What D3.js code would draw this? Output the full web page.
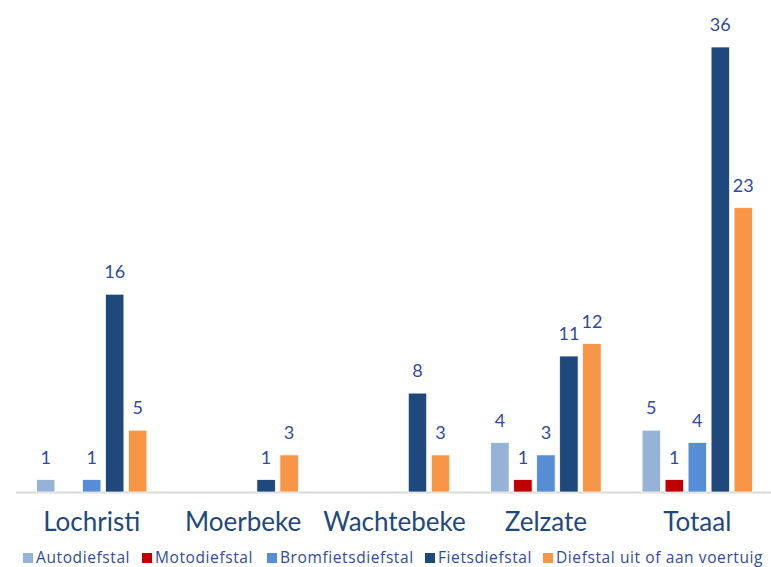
<!DOCTYPE html>
<html>
<head>
<meta charset="utf-8">
<script src="https://cdn.jsdelivr.net/npm/d3@7"></script>
<style>
  body { margin: 0; background: #fff; }
  svg { display: block; font-family: Lato, "Open Sans", sans-serif; }
</style>
</head>
<body>
<svg width="771" height="567"></svg>
<script>
var gemeenten = ["Lochristi", "Moerbeke", "Wachtebeke", "Zelzate", "Totaal"];
var reeksen   = ["Autodiefstal", "Motodiefstal", "Bromfietsdiefstal", "Fietsdiefstal", "Diefstal uit of aan voertuig"];
var kleuren   = ["#95b3d7", "#c00000", "#558ed5", "#1f497d", "#f79646"];

var auto      = [1, 0, 0, 4, 5];
var moto      = [0, 0, 0, 1, 1];
var bromfiets = [1, 0, 0, 3, 4];
var fiets     = [16, 1, 8, 11, 36];
var voertuig  = [5, 3, 3, 12, 23];

var waarden = [auto, moto, bromfiets, fiets, voertuig];

var svg    = d3.select("svg"),
    base   = 492,
    x0     = d3.scaleBand()
               .domain(gemeenten)
               .range([16, 773]),
    x1     = d3.scaleBand()
               .domain(reeksen)
               .range([x0.bandwidth()/2 - 57.5, x0.bandwidth()/2 + 57.5])
               .paddingInner(0.2)
               .paddingOuter(0.1),
    y      = d3.scaleLinear()
               .domain([0, d3.max(fiets)])
               .range([base, 47]),
    color  = d3.scaleOrdinal()
               .domain(reeksen)
               .range(kleuren);

// rows per gemeente
var rows = gemeenten.map(function(g, i) {
  return { gemeente: g, items: reeksen.map(function(r, j) {
    return { reeks: r, value: waarden[j][i] };
  }).filter(function(d) { return d.value > 0; }) };
});

// baseline
svg.append("line")
  .attr("x1", 16).attr("x2", 771)
  .attr("y1", base + 0.5).attr("y2", base + 0.5)
  .attr("stroke", "#d9d9d9")
  .attr("stroke-width", 2);

var groups = svg.selectAll(".groep")
  .data(rows)
  .enter().append("g")
    .attr("class", "groep")
    .attr("transform", d => "translate(" + x0(d.gemeente) + ",0)");

groups.selectAll("rect")
  .data(d => d.items)
  .enter().append("rect")
    .attr("x", d => x1(d.reeks))
    .attr("y", d => y(d.value))
    .attr("width", x1.bandwidth())
    .attr("height", d => base - y(d.value))
    .attr("fill", d => color(d.reeks))
    .attr("stroke", "#fff")
    .attr("stroke-width", 0.7);

groups.selectAll(".label")
  .data(d => d.items)
  .enter().append("text")
    .attr("class", "label")
    .attr("x", d => x1(d.reeks) + x1.bandwidth()/2)
    .attr("y", d => y(d.value) - 16)
    .attr("text-anchor", "middle")
    .attr("font-size", 18)
    .attr("fill", "#2f4b9c")
    .text(d => d.value);

// category axis
var xAxis = svg.append("g")
  .attr("transform", "translate(0," + base + ")")
  .call(d3.axisBottom(x0).tickSize(0).tickPadding(21));
xAxis.select(".domain").remove();
xAxis.selectAll("text")
  .attr("font-family", "Lato, 'Open Sans', sans-serif")
  .attr("font-size", 26)
  .attr("fill", "#1f497d")
  .attr("dy", "0.71em");

// legend
var legendX = [23, 142, 267, 425, 543];
var legend = svg.selectAll(".legend")
  .data(reeksen)
  .enter().append("g")
    .attr("class", "legend")
    .attr("transform", (d, i) => "translate(" + legendX[i] + ",553)");
legend.append("rect")
  .attr("width", 10).attr("height", 10)
  .attr("fill", d => color(d));
legend.append("text")
  .attr("x", 13).attr("y", 9.5)
  .attr("font-family", "'Open Sans', sans-serif")
  .attr("font-size", 15.5)
  .attr("letter-spacing", 0.6)
  .attr("fill", "#2f4b9c")
  .text(d => d);
</script>
</body>
</html>
